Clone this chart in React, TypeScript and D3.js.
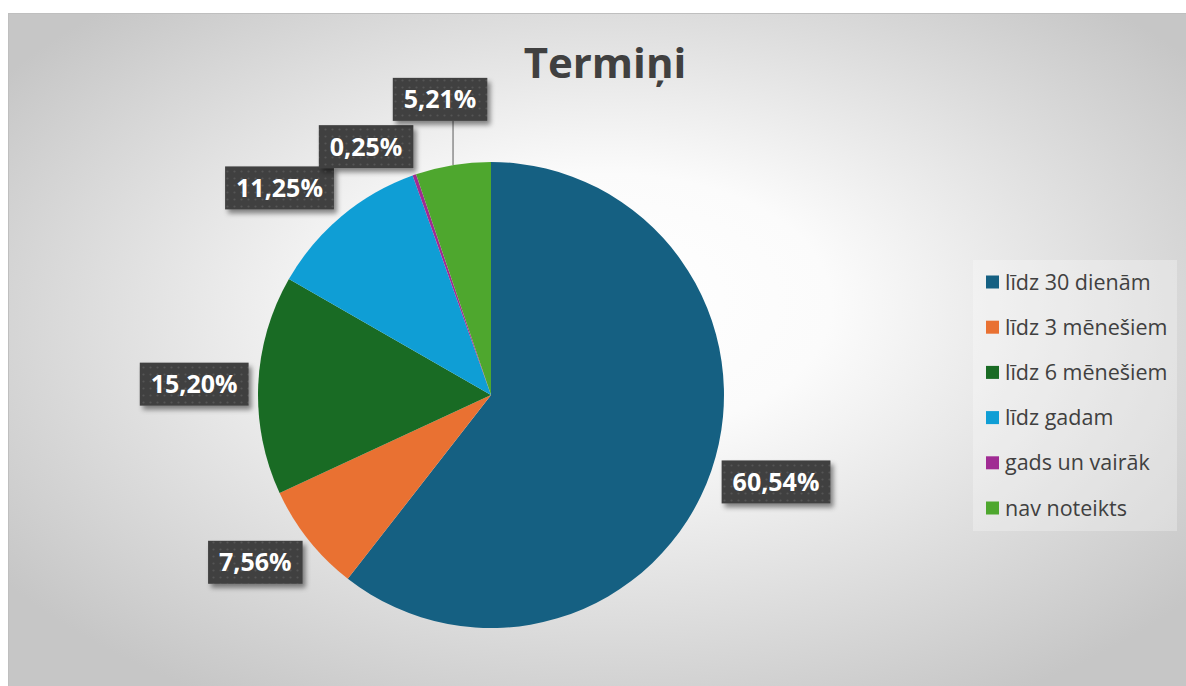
import React, { useEffect, useRef } from "react";
import * as d3 from "d3";

const title = "Termiņi";
const categories = ["līdz 30 dienām", "līdz 3 mēnešiem", "līdz 6 mēnešiem", "līdz gadam", "gads un vairāk", "nav noteikts"];
const values = [60.54, 7.56, 15.2, 11.25, 0.25, 5.21];
const colors = ["#156082", "#E97132", "#196B24", "#0F9ED5", "#A02B93", "#4EA72E"];
// label layout nudges (degrees, radial distance)
const labelAngleShift = [-2, 3.1, -0.4, -5.7, -7.5, -0.4];
const labelDistance = [298, 289, 297, 296, 278, 300];

const W = 1186;
const H = 686;
const CX = 491;
const CY = 395;
const R = 233;

export default function App() {
  const ref = useRef<SVGSVGElement | null>(null);

  useEffect(() => {
    const svg = d3.select(ref.current);
    svg.selectAll("*").remove();
    const defs = svg.append("defs");

    const grad = defs.append("radialGradient").attr("id", "bg").attr("cx", "0.5").attr("cy", "0.45").attr("r", "0.62").attr("fx", "0.5").attr("fy", "0.4");
    grad.append("stop").attr("offset", "0").attr("stop-color", "#ffffff");
    grad.append("stop").attr("offset", "0.3").attr("stop-color", "#fbfbfb");
    grad.append("stop").attr("offset", "1").attr("stop-color", "#c6c6c6");

    const pat = defs.append("pattern").attr("id", "dots").attr("width", 7).attr("height", 7).attr("patternUnits", "userSpaceOnUse");
    pat.append("rect").attr("width", 7).attr("height", 7).attr("fill", "#404040");
    pat.append("circle").attr("cx", 3.5).attr("cy", 3.5).attr("r", 1.1).attr("fill", "#555555");

    const sh = defs.append("filter").attr("id", "shadow").attr("x", "-20%").attr("y", "-20%").attr("width", "150%").attr("height", "160%");
    sh.append("feDropShadow").attr("dx", 3).attr("dy", 4).attr("stdDeviation", 2.5).attr("flood-color", "#000").attr("flood-opacity", 0.45);

    // chart area
    svg.append("rect").attr("x", 8.5).attr("y", 13.5).attr("width", 1200).attr("height", 700).attr("fill", "url(#bg)").attr("stroke", "#bfbfbf").attr("stroke-width", 1);

    // title
    svg.append("text").attr("x", 605).attr("y", 78).attr("text-anchor", "middle")
      .attr("font-family", "'Open Sans', sans-serif").attr("font-weight", 700).attr("font-size", 42)
      .attr("fill", "#404040").text(title);

    const data = values.map((v, i) => ({ v, i }));
    const pie = d3.pie<{ v: number; i: number }>().value((d) => d.v).sort(null);
    const arcs = pie(data);
    const arc = d3.arc<d3.PieArcDatum<{ v: number; i: number }>>().innerRadius(0).outerRadius(R);

    const g = svg.append("g").attr("transform", `translate(${CX},${CY})`);
    g.selectAll("path").data(arcs).enter().append("path").attr("d", arc as any).attr("fill", (d) => colors[d.data.i]);

    // labels
    const fmt = (v: number) => v.toFixed(2).replace(".", ",") + "%";
    const lg = svg.append("g");
    arcs.forEach((a) => {
      const i = a.data.i;
      const mid = (a.startAngle + a.endAngle) / 2;
      const ang = mid + (labelAngleShift[i] * Math.PI) / 180;
      const d = labelDistance[i];
      const lx = CX + Math.sin(ang) * d;
      const ly = CY - Math.cos(ang) * d;
      const grp = lg.append("g");
      const txt = grp.append("text").attr("x", lx).attr("y", ly + 9).attr("text-anchor", "middle")
        .attr("font-family", "'Open Sans', sans-serif").attr("font-weight", 700).attr("font-size", 25)
        .attr("fill", "#ffffff").text(fmt(values[i]));
      const tw = (txt.node() as SVGTextElement).getComputedTextLength();
      const bw = tw + 22;
      const bh = 43;
      const bx = lx - bw / 2;
      const by = ly - bh / 2;
      // leader line
      const px = CX + Math.sin(mid) * R;
      const py = CY - Math.cos(mid) * R;
      const gapY = py - (by + bh);
      if (gapY > 25) {
        lg.insert("line", ":first-child").attr("x1", px).attr("y1", py).attr("x2", px).attr("y2", by + bh)
          .attr("stroke", "#8c8c8c").attr("stroke-width", 1.5);
      }
      grp.insert("rect", "text").attr("x", bx).attr("y", by).attr("width", bw).attr("height", bh)
        .attr("fill", "url(#dots)").attr("filter", "url(#shadow)");
    });

    // legend
    svg.append("rect").attr("x", 973).attr("y", 260).attr("width", 204).attr("height", 271).attr("fill", "#ffffff").attr("opacity", 0.28);
    const ly0 = 282;
    const step = 45.2;
    categories.forEach((c, i) => {
      const y = ly0 + i * step;
      svg.append("rect").attr("x", 986).attr("y", y - 6.5).attr("width", 13).attr("height", 13).attr("fill", colors[i]);
      svg.append("text").attr("x", 1005).attr("y", y + 7.5).attr("font-family", "'Open Sans', sans-serif")
        .attr("font-size", 21.5).attr("fill", "#404040").text(c);
    });
  }, []);

  return (
    <svg ref={ref} width={W} height={H} style={{ position: "fixed", left: 0, top: 0, background: "#ffffff" }} />
  );
}
